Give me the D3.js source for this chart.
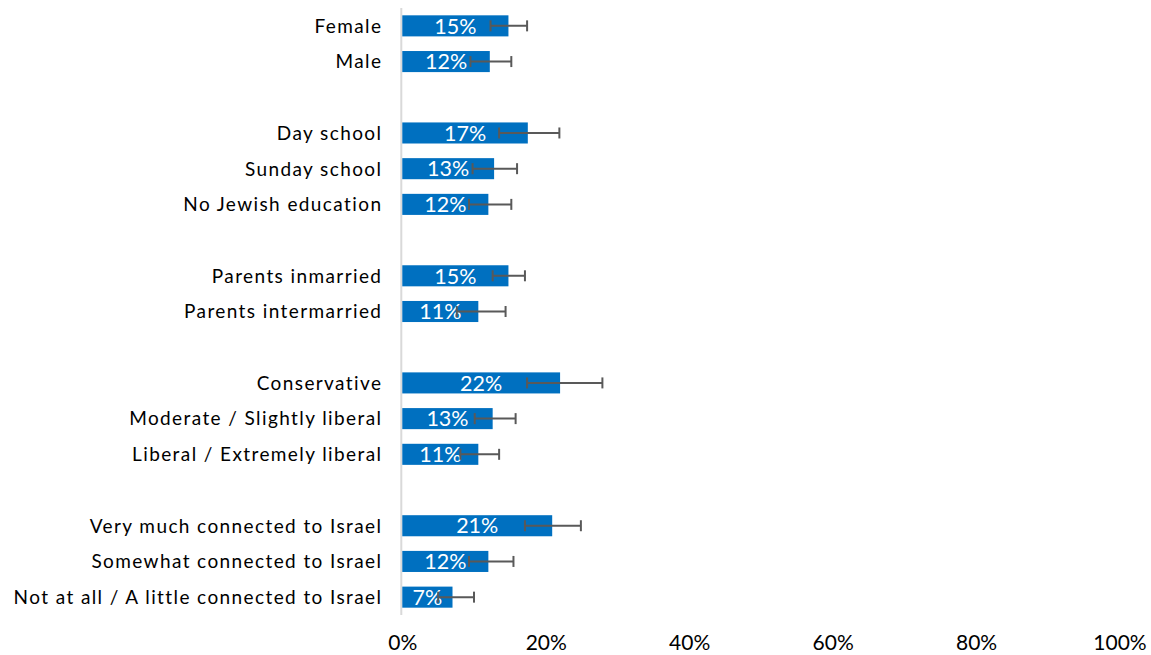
<!DOCTYPE html>
<html><head><meta charset="utf-8">
<script src="https://cdn.jsdelivr.net/npm/d3@7"></script>
<style>
html,body{margin:0;padding:0;background:#fff;}
svg{display:block;font-family:Lato,"Open Sans",sans-serif;}
</style></head>
<body>
<svg id="chart" width="1151" height="655"></svg>
<script>
// Slots: null = gap between groups
const categories = [
  "Female","Male",null,
  "Day school","Sunday school","No Jewish education",null,
  "Parents inmarried","Parents intermarried",null,
  "Conservative","Moderate / Slightly liberal","Liberal / Extremely liberal",null,
  "Very much connected to Israel","Somewhat connected to Israel","Not at all / A little connected to Israel"
];
const values  = [14.8,12.2,null, 17.5,12.8,12.0,null, 14.8,10.6,null, 22.0,12.6,10.6,null, 20.9,12.0,7.0];
const errLow  = [12.3,9.5,null, 13.5,9.8,9.3,null, 12.6,7.6,null, 17.4,10.1,8.1,null, 17.1,9.3,5.0];
const errHigh = [17.4,15.2,null, 21.9,16.0,15.2,null, 17.1,14.4,null, 27.9,15.8,13.5,null, 24.9,15.5,10.0];
const valueLabels = ["15%","12%",null,"17%","13%","12%",null,"15%","11%",null,"22%","13%","11%",null,"21%","12%","7%"];
const tickValues = [0,20,40,60,80,100];

const svg = d3.select("#chart");
const x = d3.scaleLinear().domain([0,100]).range([402.3,1119.5]);
const keys = categories.map((c,i)=>"s"+i);
const y = d3.scaleBand().domain(keys).range([8,615]).paddingInner(0.41).paddingOuter(0.205);

const rows = categories.map((c,i)=>({key:keys[i],cat:c,v:values[i],lo:errLow[i],hi:errHigh[i],lab:valueLabels[i]})).filter(d=>d.cat!==null);

// vertical axis line
svg.append("line").attr("x1",x(0)-1).attr("x2",x(0)-1).attr("y1",8).attr("y2",615)
  .attr("stroke","#d9d9d9").attr("stroke-width",2);

// bars
svg.selectAll("rect.bar").data(rows).join("rect").attr("class","bar")
  .attr("x",x(0)).attr("y",d=>y(d.key)).attr("height",y.bandwidth())
  .attr("width",d=>x(d.v)-x(0)).attr("fill","#0070c0");

// value labels
svg.selectAll("text.val").data(rows).join("text").attr("class","val")
  .attr("x",d=>(x(0)+x(d.v))/2).attr("y",d=>y(d.key)+y.bandwidth()/2)
  .attr("dy","0.36em").attr("text-anchor","middle").attr("fill","#fff")
  .attr("font-size",21.5).text(d=>d.lab);

// error bars
const eg = svg.selectAll("g.err").data(rows).join("g").attr("class","err")
  .attr("stroke","#595959").attr("stroke-width",2);
eg.append("line").attr("x1",d=>x(d.lo)).attr("x2",d=>x(d.hi))
  .attr("y1",d=>y(d.key)+y.bandwidth()/2).attr("y2",d=>y(d.key)+y.bandwidth()/2);
eg.append("line").attr("x1",d=>x(d.lo)).attr("x2",d=>x(d.lo))
  .attr("y1",d=>y(d.key)+y.bandwidth()/2-5.5).attr("y2",d=>y(d.key)+y.bandwidth()/2+5.5);
eg.append("line").attr("x1",d=>x(d.hi)).attr("x2",d=>x(d.hi))
  .attr("y1",d=>y(d.key)+y.bandwidth()/2-5.5).attr("y2",d=>y(d.key)+y.bandwidth()/2+5.5);

// category labels
svg.selectAll("text.cat").data(rows).join("text").attr("class","cat")
  .attr("x",382.4).attr("y",d=>y(d.key)+y.bandwidth()/2).attr("dy","0.36em")
  .attr("text-anchor","end").attr("fill","#000").attr("font-size",19)
  .attr("letter-spacing",1.4).text(d=>d.cat);

// x axis ticks
const xAxis = d3.axisBottom(x).tickValues(tickValues).tickFormat(d=>d+"%").tickSize(0).tickPadding(0);
const ax = svg.append("g").attr("transform","translate(0,650)").call(xAxis);
ax.select(".domain").remove();
ax.selectAll("text").attr("font-size",21).attr("fill","#000").attr("font-family","Lato,'Open Sans',sans-serif").attr("dy","0").attr("y",0);
</script>
</body></html>
